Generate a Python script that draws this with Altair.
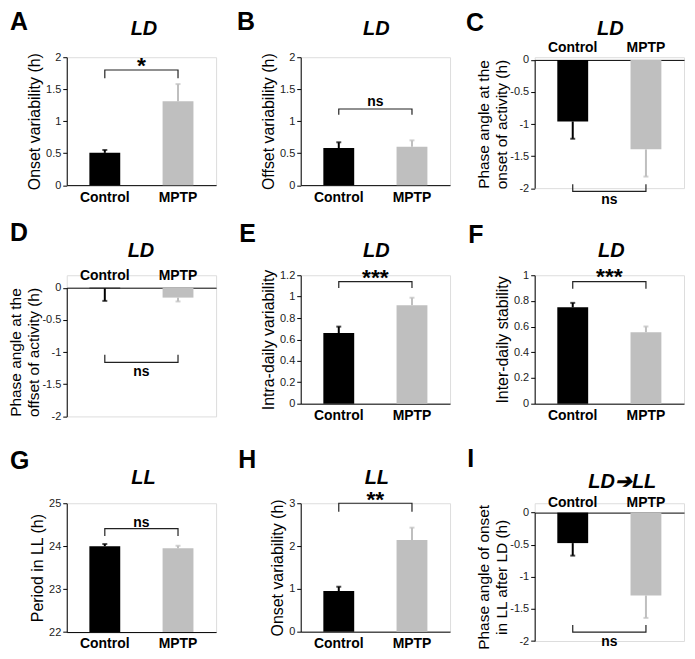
import altair as alt
import pandas as pd

FONT = "Liberation Sans"

groups = ["Control", "MPTP"]

# panel means and SEMs
onset_ld_mean = [0.505, 1.31]
onset_ld_sem = [0.045, 0.27]
offset_ld_mean = [0.58, 0.60]
offset_ld_sem = [0.09, 0.10]
phase_on_mean = [-0.96, -1.395]
phase_on_sem = [0.27, 0.425]
phase_off_mean = [-0.01, -0.154]
phase_off_sem = [0.195, 0.06]
intra_mean = [0.66, 0.92]
intra_sem = [0.06, 0.07]
inter_mean = [0.75, 0.556]
inter_sem = [0.035, 0.045]
period_mean = [24.0, 23.95]
period_sem = [0.05, 0.06]
onset_ll_mean = [0.95, 2.14]
onset_ll_sem = [0.10, 0.29]
phase_ll_mean = [-0.475, -1.29]
phase_ll_sem = [0.195, 0.35]

letters = ["A", "B", "C", "D", "E", "F", "G", "H", "I"]
conditions = ["LD", "LD", "LD", "LD", "LD", "LD", "LL", "LL", "LD\u2794LL"]
y_titles = [
    "Onset variability (h)",
    "Offset variability (h)",
    ["Phase angle at the", "onset of activity (h)"],
    ["Phase angle at the", "offset of activity (h)"],
    "Intra-daily variability",
    "Inter-daily stability",
    "Period in LL (h)",
    "Onset variability (h)",
    ["Phase angle of onset", "in LL after LD (h)"],
]
significance = ["*", "ns", "ns", "ns", "***", "***", "ns", "**", "ns"]
bracket_level = [1.80, 1.19, -2.05, -1.16, 1.14, 0.95, 24.41, 3.0, -1.86]
bracket_end = [1.67, 1.10, -1.94, -1.04, 1.08, 0.895, 24.24, 2.8, -1.75]
sig_y = [1.93, 1.30, -2.18, -1.31, 1.215, 1.02, 24.55, 3.16, -2.02]
y_ticks = [
    [0, 0.5, 1, 1.5, 2],
    [0, 0.5, 1, 1.5, 2],
    [-2, -1.5, -1, -0.5, 0],
    [-2, -1.5, -1, -0.5, 0],
    [0, 0.2, 0.4, 0.6, 0.8, 1, 1.2],
    [0, 0.2, 0.4, 0.6, 0.8, 1],
    [22, 23, 24, 25],
    [0, 1, 2, 3],
    [-2, -1.5, -1, -0.5, 0],
]
baselines = [0, 0, 0, 0, 0, 0, 22, 0, 0]

means = [onset_ld_mean, offset_ld_mean, phase_on_mean, phase_off_mean,
         intra_mean, inter_mean, period_mean, onset_ll_mean, phase_ll_mean]
sems = [onset_ld_sem, offset_ld_sem, phase_on_sem, phase_off_sem,
        intra_sem, inter_sem, period_sem, onset_ll_sem, phase_ll_sem]

# layout / style (pixels)
W = 150
layout = [
    # height, y-range [bottom, top], x-axis orient, x-axis offset, x label padding,
    # letter (x, top y), title (x, baseline y)
    dict(h=128.5, rng=[128.5, 0], orient="bottom", off=0, lp=5, lx=-57, ly=-47, tx=77.5, ty=-22),
    dict(h=128.5, rng=[128.5, 0], orient="bottom", off=0, lp=5, lx=-64, ly=-47, tx=76, ty=-22),
    dict(h=131.5, rng=[131.5, 2.7], orient="top", off=-2.7, lp=5, lx=-69, ly=-46, tx=76, ty=-22.3),
    dict(h=141.8, rng=[141.8, 12.5], orient="top", off=-12.5, lp=5, lx=-57, ly=-54, tx=74.5, ty=-18.2),
    dict(h=129, rng=[129, 0], orient="bottom", off=0, lp=5, lx=-61.7, ly=-53, tx=76, ty=-18.5),
    dict(h=129, rng=[129, 0], orient="bottom", off=0, lp=5, lx=-66.7, ly=-52.5, tx=77, ty=-18),
    dict(h=129.4, rng=[129.4, 0], orient="bottom", off=0, lp=5, lx=-57, ly=-54, tx=77, ty=-19),
    dict(h=129, rng=[129, 0], orient="bottom", off=0, lp=5, lx=-62.7, ly=-55.5, tx=76.5, ty=-19.2),
    dict(h=138.4, rng=[138.4, 9.4], orient="top", off=-9.4, lp=3, lx=-67.7, ly=-56, tx=88, ty=-15),
]

color_scale = alt.Scale(domain=groups, range=["#000000", "#bfbfbf"])


def make_panel(i):
    L = layout[i]
    neg = means[i][0] < baselines[i] or means[i][1] < baselines[i]
    sign = -1 if neg else 1
    df = pd.DataFrame({
        "group": groups,
        "mean": means[i],
        "err": [m + sign * s for m, s in zip(means[i], sems[i])],
        "base": [baselines[i]] * 2,
    })
    lo, hi = min(y_ticks[i]), max(y_ticks[i])
    two_line = isinstance(y_titles[i], list)

    xaxis = alt.Axis(orient=L["orient"], offset=L["off"], title=None, labelAngle=0,
                     ticks=False, labelFont=FONT, labelFontWeight="bold",
                     labelFontSize=14, labelColor="black", labelPadding=L["lp"],
                     domainColor="black", domainWidth=1)
    xs = alt.Scale(domain=groups, paddingInner=0, paddingOuter=0.02)
    yaxis = alt.Axis(values=y_ticks[i], labelExpr="'' + datum.value", title=y_titles[i],
                     titleFont=FONT, titleFontSize=15.5 if two_line else 16,
                     titleFontWeight="normal",
                     titleColor="black", titlePadding=0 if two_line else 3,
                     titleLineHeight=18,
                     labelFont=FONT, labelFontSize=11, labelColor="#222",
                     labelPadding=2, tickSize=4, tickColor="black",
                     domainColor="black", domainWidth=1, grid=False)
    ys = alt.Scale(domain=[lo, hi], range=L["rng"], nice=False, zero=False)

    def X(field="group"):
        return alt.X(f"{field}:N", scale=xs, axis=xaxis, sort=groups)

    def Y(field):
        return alt.Y(f"{field}:Q", scale=ys, axis=yaxis)

    base = alt.Chart(df)
    col = alt.Color("group:N", scale=color_scale, legend=None)
    bars = base.mark_bar(size=31).encode(x=X(), y=Y("mean"), y2="base:Q", color=col)
    rule = base.mark_rule(strokeWidth=2).encode(x=X(), y=Y("mean"), y2="err:Q", color=col)
    cap = base.mark_tick(size=5, thickness=2).encode(x=X(), y=Y("err"), color=col)

    br = pd.DataFrame({
        "group": [groups[0], groups[0], groups[1], groups[1]],
        "yb": [bracket_end[i], bracket_level[i], bracket_level[i], bracket_end[i]],
        "k": [0, 1, 2, 3],
    })
    bracket = alt.Chart(br).mark_line(color="#222", strokeWidth=1.2).encode(
        x=X(), y=Y("yb"), order="k:Q")

    star = significance[i] != "ns"
    sg = pd.DataFrame({"ys": [sig_y[i]], "t": [significance[i]]})
    sig = alt.Chart(sg).mark_text(
        font=FONT, fontWeight="bold", fontSize=23 if star else 14,
        baseline="middle", align="center", dy=4 if star else 0, color="black"
    ).encode(x=alt.value(W / 2), y=Y("ys"), text="t:N")

    lt = pd.DataFrame({"t": [letters[i]]})
    letter = alt.Chart(lt).mark_text(
        font=FONT, fontWeight="bold", fontSize=25, align="left",
        baseline="top", color="black"
    ).encode(x=alt.value(L["lx"]), y=alt.value(L["ly"]), text="t:N")

    tt = pd.DataFrame({"t": [conditions[i]]})
    title = alt.Chart(tt).mark_text(
        font=FONT, fontWeight="bold", fontStyle="italic", fontSize=20,
        align="center", baseline="alphabetic", color="black"
    ).encode(x=alt.value(L["tx"]), y=alt.value(L["ty"]), text="t:N")

    return alt.layer(bars, rule, cap, bracket, sig, letter, title).properties(
        width=W, height=L["h"])


panels = [make_panel(i) for i in range(9)]

chart = alt.concat(
    *panels, columns=3, spacing={"row": 87, "column": 85},
    bounds="flush", align="each"
).properties(
    padding={"left": 0, "top": 0, "right": 2, "bottom": 2}
).configure_view(stroke=None).configure(font=FONT)

chart.save("out.html", embed_options={"renderer": "svg", "actions": False})
